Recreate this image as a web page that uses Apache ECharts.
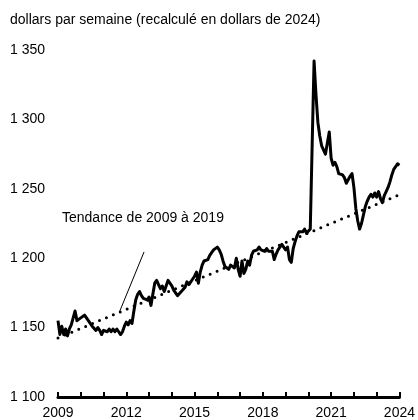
<!DOCTYPE html>
<html style="height: 100%">
<head>
<meta charset="utf-8">
<script src="https://cdn.jsdelivr.net/npm/echarts@6/dist/echarts.min.js"></script>
</head>
<body style="height: 100%; margin: 0; background: #fff">
<div id="container" style="width: 418px; height: 420px"></div>
<script type="text/javascript">
// monthly series, first value = January 2009
var startYear = 2009;
var wages = [
    1155, 1145, 1151, 1145, 1149, 1144, 1149, 1152, 1157, 1162, 1155, 1155,   // 2009
    1157, 1158, 1159, 1157, 1155, 1153, 1151, 1150, 1148, 1150, 1148, 1145,   // 2010
    1148, 1149, 1147, 1149, 1147, 1149, 1147, 1149, 1147, 1145, 1147, 1151,   // 2011
    1154, 1152, 1155, 1153, 1162, 1170, 1174, 1176, 1173, 1171, 1172, 1170,   // 2012
    1172, 1166, 1174, 1182, 1184, 1181, 1178, 1180, 1176, 1180, 1184, 1183,   // 2013
    1180, 1177, 1175, 1173, 1174, 1176, 1175, 1179, 1183, 1181, 1183, 1185,   // 2014
    1187, 1190, 1182, 1190, 1195, 1198, 1198, 1199, 1202, 1203, 1206, 1205,   // 2015
    1208, 1206, 1203, 1198, 1194, 1195, 1192, 1195, 1194, 1193, 1200, 1192,   // 2016
    1187, 1198, 1189, 1192, 1198, 1195, 1202, 1205, 1205, 1206, 1208, 1206,   // 2017
    1207, 1205, 1207, 1205, 1204, 1205, 1199, 1203, 1206, 1208, 1210, 1211,   // 2018
    1206, 1208, 1199, 1197, 1207, 1212, 1216, 1219, 1220, 1219, 1221, 1218,   // 2019
    1219, 1221, 1282, 1342, 1318, 1298, 1288, 1281, 1280, 1275, 1274, 1291,   // 2020
    1272, 1267, 1269, 1266, 1261, 1262, 1260, 1258, 1254, 1254, 1259, 1261,   // 2021
    1251, 1236, 1227, 1221, 1225, 1231, 1237, 1241, 1244, 1246, 1244, 1247,   // 2022
    1244, 1248, 1243, 1240, 1245, 1248, 1251, 1255, 1260, 1264, 1266, 1268,   // 2023
    1267                                                                      // 2024
];

// trend 2009-2019, extended to 2024
var trendYears = [2009, 2024];
var trendValues = [1142.5, 1245.7];

// pointer from the note to the trend line
var pointerYears = [2012.78, 2011.7];
var pointerValues = [1204.5, 1161.3];

var yearLabels = [2009, 2012, 2015, 2018, 2021, 2024];

var font = 'Liberation Sans, Arial, sans-serif';

var wageData = wages.map(function (v, i) {
    return [startYear + i / 12, v];
});
var trendData = trendYears.map(function (y, i) {
    return [y, trendValues[i]];
});

var dom = document.getElementById("container");
var myChart = echarts.init(dom);

var option = {
    animation: false,
    backgroundColor: '#fff',
    title: {
        text: 'dollars par semaine (recalculé en dollars de 2024)',
        left: 10,
        top: 13,
        padding: 0,
        textStyle: {
            fontFamily: font,
            fontSize: 14,
            fontWeight: 'normal',
            color: '#000'
        }
    },
    graphic: [
        {
            type: 'text',
            left: 62,
            top: 211,
            style: {
                text: 'Tendance de 2009 à 2019',
                font: '14px ' + font,
                fill: '#000'
            }
        }
    ],
    grid: {
        left: 58,
        right: 15,
        top: 50,
        bottom: 23
    },
    xAxis: {
        type: 'value',
        min: 2009,
        max: 2024,
        interval: 1,
        splitLine: { show: false },
        axisLine: {
            show: true,
            onZero: false,
            lineStyle: { color: '#000', width: 3 }
        },
        axisTick: {
            show: true,
            inside: true,
            length: 5,
            lineStyle: { color: '#000', width: 2 }
        },
        axisLabel: {
            margin: 9,
            color: '#000',
            fontFamily: font,
            fontSize: 14,
            formatter: function (v) {
                return yearLabels.indexOf(Math.round(v)) >= 0 ? String(Math.round(v)) : '';
            }
        }
    },
    yAxis: {
        type: 'value',
        min: 1100,
        max: 1350,
        interval: 50,
        splitLine: { show: false },
        axisLine: { show: false },
        axisTick: { show: false },
        axisLabel: {
            align: 'left',
            margin: 48,
            color: '#000',
            fontFamily: font,
            fontSize: 14,
            formatter: function (v) {
                var s = String(v);
                return s.slice(0, s.length - 3) + ' ' + s.slice(-3);
            }
        }
    },
    series: [
        {
            name: 'tendance',
            type: 'line',
            data: trendData,
            showSymbol: false,
            silent: true,
            lineStyle: {
                color: '#000',
                width: 3,
                type: [0, 7.5],
                cap: 'round'
            },
            markLine: {
                silent: true,
                symbol: 'none',
                label: { show: false },
                lineStyle: { color: '#000', width: 1, type: 'solid' },
                data: [
                    [
                        { coord: [pointerYears[0], pointerValues[0]] },
                        { coord: [pointerYears[1], pointerValues[1]] }
                    ]
                ]
            }
        },
        {
            name: 'salaire',
            type: 'line',
            data: wageData,
            showSymbol: false,
            silent: true,
            lineStyle: {
                color: '#000',
                width: 3,
                join: 'round'
            }
        }
    ]
};

myChart.setOption(option);
</script>
</body>
</html>
